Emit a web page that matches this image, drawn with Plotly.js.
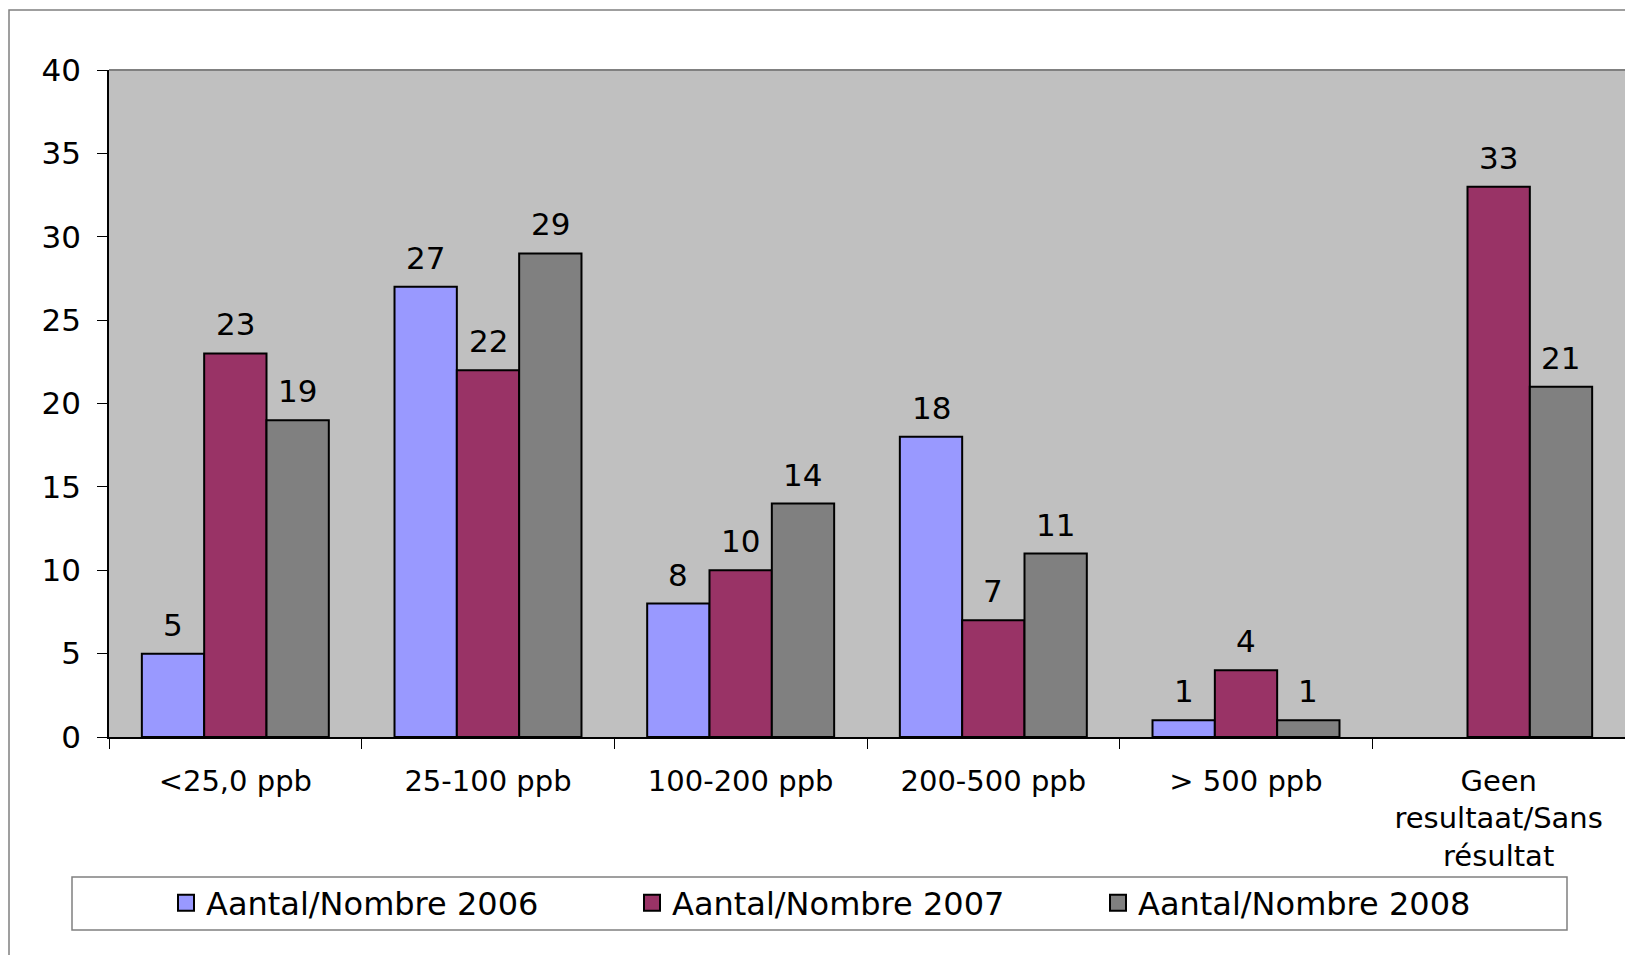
<!DOCTYPE html>
<html>
<head>
<meta charset="utf-8">
<script src="https://cdn.plot.ly/plotly-3.0.1.min.js"></script>
<style>html,body{margin:0;padding:0;background:#fff;}#chart{width:1625px;height:955px;}</style>
</head>
<body>
<div id="chart"></div>
<script>
const categories = ['<25,0 ppb', '25-100 ppb', '100-200 ppb', '200-500 ppb', '> 500 ppb', 'Geen<br>resultaat/Sans<br>résultat'];
const values2006 = [5, 27, 8, 18, 1, null];
const values2007 = [23, 22, 10, 7, 4, 33];
const values2008 = [19, 29, 14, 11, 1, 21];
const seriesNames = ['Aantal/Nombre 2006', 'Aantal/Nombre 2007', 'Aantal/Nombre 2008'];
const seriesColors = ['#9999FF', '#993366', '#808080'];
const yTickValues = [0, 5, 10, 15, 20, 25, 30, 35, 40];

const W = 1625, H = 955;
const M = {l: 109, r: 0, t: 70, b: 218};
const plotW = W - M.l - M.r, plotH = H - M.t - M.b;
const bargap = 0.26;
const catW = plotW / categories.length;
const barW = catW * (1 - bargap) / 3;
const FONT = 'DejaVu Sans, Verdana, sans-serif';
const FS = 31;

const allSeries = [values2006, values2007, values2008];
const traces = [];
const annotations = [];
allSeries.forEach((vals, i) => {
  traces.push({
    type: 'bar', x: categories, y: vals, name: seriesNames[i], showlegend: false,
    marker: {color: seriesColors[i], line: {color: '#000', width: 2}},
    hoverinfo: 'x+y+name'
  });
  vals.forEach((v, j) => {
    if (v === null) return;
    annotations.push({
      x: categories[j], y: v, xref: 'x', yref: 'y', text: String(v), showarrow: false,
      xshift: (i - 1) * barW, yanchor: 'bottom', yshift: 9,
      font: {family: FONT, size: FS, color: '#000'}
    });
  });
});
// legend entries
seriesNames.forEach((n, i) => {
  traces.push({
    type: 'scatter', mode: 'markers', x: [null], y: [null], name: n, showlegend: true,
    marker: {symbol: 'square', size: 16, color: seriesColors[i], line: {color: '#000', width: 2}},
    hoverinfo: 'skip'
  });
});

const px = x => (x - M.l) / plotW;
const py = y => (H - M.b - y) / plotH;

const layout = {
  width: W, height: H,
  margin: M,
  paper_bgcolor: '#fff', plot_bgcolor: '#C0C0C0',
  barmode: 'group', bargap: bargap, bargroupgap: 0,
  font: {family: FONT, size: FS, color: '#000'},
  xaxis: {
    type: 'category', showgrid: false, zeroline: false,
    showline: true, linecolor: '#000', linewidth: 1.5,
    ticks: 'outside', tickson: 'boundaries', ticklen: 10, tickcolor: '#000', tickwidth: 1,
    ticklabelstandoff: 17,
    tickfont: {family: FONT, size: 29, color: '#000'}
  },
  yaxis: {
    range: [0, 40], tickvals: yTickValues, showgrid: false, zeroline: false,
    showline: true, linecolor: '#000', linewidth: 1.5,
    ticks: 'outside', ticklen: 10, tickcolor: '#000', tickwidth: 1,
    ticklabelstandoff: 10,
    tickfont: {family: FONT, size: FS, color: '#000'}
  },
  legend: {
    orientation: 'h', x: px(166), xanchor: 'left', y: py(903), yanchor: 'middle',
    bgcolor: 'rgba(0,0,0,0)', borderwidth: 0,
    entrywidth: 421, entrywidthmode: 'pixels',
    font: {family: FONT, size: 32, color: '#000'}
  },
  annotations: annotations,
  shapes: [
    {type: 'line', xref: 'paper', yref: 'paper', x0: 0, x1: 1, y0: 1, y1: 1, line: {color: '#808080', width: 2}},
    {type: 'rect', xref: 'paper', yref: 'paper', x0: px(9), x1: px(1700), y0: py(1100), y1: py(10), line: {color: '#808080', width: 1.5}},
    {type: 'rect', xref: 'paper', yref: 'paper', x0: px(72), x1: px(1567), y0: py(930), y1: py(877), line: {color: '#808080', width: 1.5}}
  ],
  hovermode: 'closest'
};

Plotly.newPlot('chart', traces, layout, {displayModeBar: false, responsive: false});
</script>
</body>
</html>
